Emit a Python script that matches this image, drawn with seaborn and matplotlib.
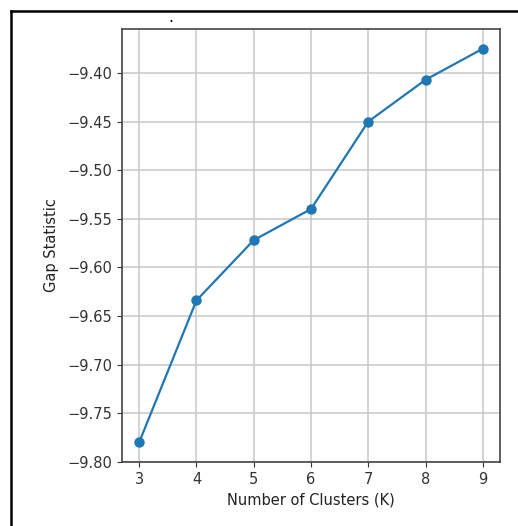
import pandas as pd
import seaborn as sns
import matplotlib.pyplot as plt
from matplotlib.lines import Line2D

# gap statistic per K
k_values = [3, 4, 5, 6, 7, 8, 9]
gap_values = [-9.780, -9.634, -9.572, -9.540, -9.450, -9.407, -9.375]

df = pd.DataFrame({'K': k_values, 'Gap': gap_values})

fig = plt.figure(figsize=(5.18, 5.26), dpi=100)
ax = fig.add_axes([122 / 518, 1 - 462 / 526, (500 - 122) / 518, (462 - 29) / 526])

sns.lineplot(data=df, x='K', y='Gap', marker='o', markersize=7.5,
             markeredgewidth=0, color='#1f77b4', linewidth=1.6, ax=ax)

ax.set_xticks(k_values)
ax.set_yticks([-9.80, -9.75, -9.70, -9.65, -9.60, -9.55, -9.50, -9.45, -9.40])
ax.set_yticklabels([f'{v:.2f}'.replace('-', '\u2212') for v in ax.get_yticks()])
ax.grid(True, color='#c8c8c8', linewidth=1.1)
ax.set_axisbelow(True)
ax.set_xlabel('Number of Clusters (K)', fontsize=10.5, color='#222222')
ax.set_ylabel('Gap Statistic', fontsize=10.5, color='#222222', labelpad=6)
ax.tick_params(labelsize=10.5, colors='#333333')
for s in ax.spines.values():
    s.set_color('#444444')
    s.set_linewidth(1.2)

# screenshot frame
fig.add_artist(Line2D([11 / 518, 11 / 518], [0, 1 - 11 / 526], color='black', linewidth=1.8))
fig.add_artist(Line2D([11 / 518, 1], [1 - 11 / 526, 1 - 11 / 526], color='black', linewidth=1.8))
fig.text(171 / 518, 1 - 25 / 526, '.', fontsize=11, ha='center', va='bottom')

fig.savefig('out.png', dpi=100)
